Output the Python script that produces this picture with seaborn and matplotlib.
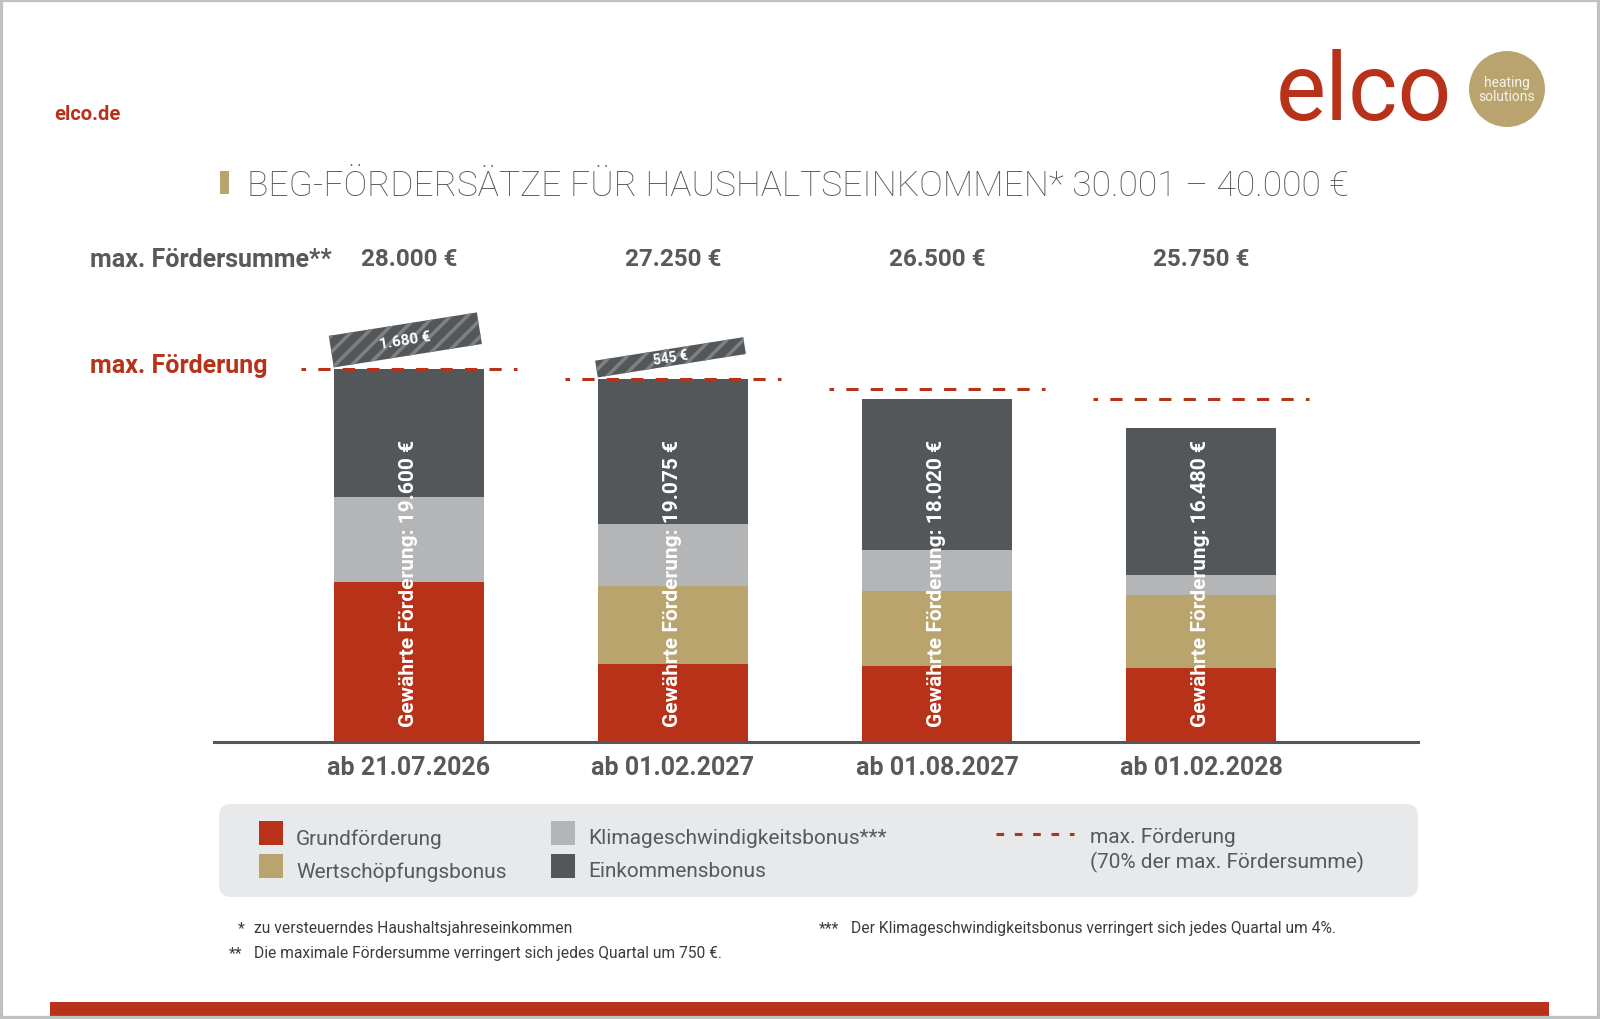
import numpy as np
import pandas as pd
import matplotlib
matplotlib.use('Agg')
import matplotlib.pyplot as plt
import matplotlib.patches as mpatches
import matplotlib.transforms as mtransforms
from matplotlib.lines import Line2D
import seaborn as sns

# Werte aus der Grafik (in Euro)
stichtage = ['ab 21.07.2026', 'ab 01.02.2027', 'ab 01.08.2027', 'ab 01.02.2028']
max_foerdersumme = [28000, 27250, 26500, 25750]
max_foerderung = [19600, 19075, 18550, 18025]
grundfoerderung = [8400, 4087.5, 3975, 3862.5]
wertschoepfungsbonus = [0, 4087.5, 3975, 3862.5]
klimabonus = [4480, 3270, 2120, 1030]
einkommensbonus = [6720, 7630, 7950, 7725]
gewaehrt = [19600, 19075, 18020, 16480]
ueberschuss = [1680, 545, 0, 0]

RED = '#b8321a'
TAN = '#b9a46e'
LGREY = '#b3b5b6'
DGREY = '#54575a'
TXT = '#57595b'

sns.set_theme(style='white')
plt.rcParams['font.family'] = ['Roboto', 'DejaVu Sans']
plt.rcParams['hatch.linewidth'] = 2.5

W, H = 1600, 1020


def fx(x):
    return x / W


def fy(y):
    return 1 - y / H


def fmt(v):
    return f'{v:,.0f}'.replace(',', '.')


# DataFrame mit gestapelten Summen (grosse Balken zuerst, kleinere darueber)
df = pd.DataFrame({
    'stichtag': stichtage,
    'grund': grundfoerderung,
    'wert': wertschoepfungsbonus,
    'klima': klimabonus,
    'einkommen': einkommensbonus,
})
df['s1'] = df['grund']
df['s2'] = df['s1'] + df['wert']
df['s3'] = df['s2'] + df['klima']
df['s4'] = df['s3'] + df['einkommen']

fig = plt.figure(figsize=(16, 10.2), dpi=100)
ax = fig.add_axes([fx(214), fy(743), 1204 / W, 453 / H])

bar_w = 0.568
for col, colr in [('s4', DGREY), ('s3', LGREY), ('s2', TAN), ('s1', RED)]:
    sns.barplot(data=df, x='stichtag', y=col, color=colr, saturation=1,
                width=bar_w, errorbar=None, ax=ax, linewidth=0)

ax.set_xlim(-0.7386, 3.822)
ax.set_ylim(0, 23800)
ax.set_xlabel('')
ax.set_ylabel('')
ax.set_yticks([])
for s in ['top', 'left', 'right']:
    ax.spines[s].set_visible(False)
ax.spines['bottom'].set_color('#55585a')
ax.spines['bottom'].set_linewidth(2.2)
ax.tick_params(axis='x', length=0, pad=9.5)
for lab in ax.get_xticklabels():
    lab.set_fontsize(18)
    lab.set_fontweight('bold')
    lab.set_color(TXT)

# max. Foerderung (gestrichelt)
for i, m in enumerate(max_foerderung):
    ax.plot([i - 0.409, i + 0.409], [m, m], color=RED, lw=2.2,
            linestyle=(2.5, (4, 4)), dash_capstyle='butt', zorder=5)

# Senkrechte Beschriftung in den Balken
for i, v in enumerate(gewaehrt):
    ax.annotate(f'Gewährte Förderung: {fmt(v)} €', xy=(i, 0), xytext=(0, 11.5),
                textcoords='offset points', rotation=90, ha='center', va='bottom',
                color='white', fontweight='bold', fontsize=15, zorder=6)

# Gekappte Betraege als schraege, schraffierte Kaesten
px_unit = ax.transData.transform((1, 0))[0] - ax.transData.transform((0, 0))[0]
px_euro = (ax.transData.transform((0, 1000))[1] - ax.transData.transform((0, 0))[1]) / 1000
for i, u in enumerate(ueberschuss):
    if u == 0:
        continue
    w_px = bar_w * px_unit
    h_px = max(u * px_euro, 17)
    tr = mtransforms.Affine2D().rotate_deg(9) + \
        mtransforms.ScaledTranslation(i - bar_w / 2, gewaehrt[i], ax.transData)
    box = mpatches.Rectangle((0, 1.5), w_px, h_px, transform=tr, facecolor=DGREY,
                             edgecolor='#7d8184', hatch='//', linewidth=0)
    fig.add_artist(box)
    fig.text(w_px / 2, 1.5 + h_px / 2, f'{fmt(u)} €', transform=tr, rotation=9,
             rotation_mode='anchor', ha='center', va='center', color='white',
             fontweight='bold', fontsize=11 if h_px > 20 else 10)

# max. Foerdersumme-Zeile
fig.text(fx(90), fy(260), 'max. Fördersumme**', ha='left', va='center',
         fontsize=18, fontweight='bold', color=TXT)
trans = mtransforms.blended_transform_factory(ax.transData, fig.transFigure)
for i, s in enumerate(max_foerdersumme):
    ax.text(i, fy(260), f'{fmt(s)} €', transform=trans, ha='center', va='center',
            fontsize=17.5, fontweight='bold', color=TXT)

fig.text(fx(90), fy(366), 'max. Förderung', ha='left', va='center',
         fontsize=18, fontweight='bold', color=RED)

# Titel
fig.add_artist(mpatches.Rectangle((fx(220), fy(195)), 9 / W, 23 / H,
                                  transform=fig.transFigure, color=TAN, lw=0))
fig.text(fx(247), fy(186), 'BEG-FÖRDERSÄTZE FÜR HAUSHALTSEINKOMMEN* 30.001 – 40.000 €',
         ha='left', va='center', fontsize=25.5, fontweight='light', color=TXT)

# Kopfzeile / Logo
fig.text(fx(54), fy(114), 'elco.de', ha='left', va='center', fontsize=14.5,
         fontweight='bold', color=RED)
fig.text(fx(1276), fy(120), 'elco', ha='left', va='baseline', fontsize=68,
         fontweight='regular', color=RED)
fig.add_artist(mpatches.Circle((1507, H - 90), 38, transform=mtransforms.IdentityTransform(),
                               color='#b9a46f', lw=0))
fig.text(fx(1507), fy(90), 'heating\nsolutions', ha='center', va='center',
         fontsize=10, color='#f6f2e8', linespacing=0.95)

# Legende
fig.add_artist(mpatches.FancyBboxPatch((219, H - 898), 1199, 93,
                                       boxstyle='round,pad=0,rounding_size=12',
                                       transform=mtransforms.IdentityTransform(),
                                       fc='#e8e9eb', ec='none'))
legend_items = [
    (259, 822, RED, 'Grundförderung'),
    (259, 855, TAN, 'Wertschöpfungsbonus'),
    (551, 822, LGREY, 'Klimageschwindigkeitsbonus***'),
    (551, 855, DGREY, 'Einkommensbonus'),
]
for x, y, c, lab in legend_items:
    fig.add_artist(mpatches.Rectangle((fx(x), fy(y + 24)), 24 / W, 24 / H,
                                      transform=fig.transFigure, color=c, lw=0))
    fig.text(fx(x + 37), fy(y + 17), lab, ha='left', va='center', fontsize=15, color=TXT)
fig.add_artist(Line2D([fx(996), fx(1074)], [fy(835), fy(835)], transform=fig.transFigure,
                      color=RED, lw=2.2, linestyle=(0, (2.5, 3.5)), dash_capstyle='butt'))
fig.text(fx(1090), fy(838), 'max. Förderung', ha='left', va='center', fontsize=15, color=TXT)
fig.text(fx(1090), fy(862), '(70% der max. Fördersumme)', ha='left', va='center',
         fontsize=15, color=TXT)

# Fussnoten
fn = dict(ha='left', va='center', fontsize=11.25, color='#3a3b3d')
fig.text(fx(238), fy(929), '*', **fn)
fig.text(fx(254), fy(929), 'zu versteuerndes Haushaltsjahreseinkommen', **fn)
fig.text(fx(229), fy(954), '**', **fn)
fig.text(fx(254), fy(954), 'Die maximale Fördersumme verringert sich jedes Quartal um 750 €.', **fn)
fig.text(fx(819), fy(929), '***', **fn)
fig.text(fx(851), fy(929), 'Der Klimageschwindigkeitsbonus verringert sich jedes Quartal um 4%.', **fn)

# roter Balken unten und Rahmen
fig.add_artist(mpatches.Rectangle((fx(50), 0), 1499 / W, 17 / H,
                                  transform=fig.transFigure, color=RED, lw=0))
fig.add_artist(mpatches.Rectangle((0, 0), 1, 1, transform=fig.transFigure,
                                  fill=False, ec='#bfc1c3', lw=4.5))

fig.savefig('out.png', dpi=100)
